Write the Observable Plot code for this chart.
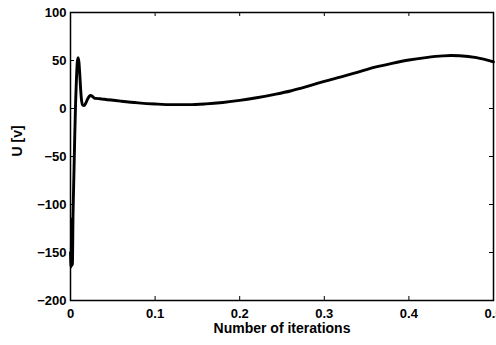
<!DOCTYPE html>
<html>
<head>
<meta charset="utf-8">
<script src="https://cdn.jsdelivr.net/npm/d3@7"></script>
<script src="https://cdn.jsdelivr.net/npm/@observablehq/plot@0.6"></script>
<style>
  body { margin: 0; background: #fff; overflow: hidden; }
</style>
</head>
<body>
<div id="chart"></div>
<script>
// Data
const iterations = [0, 0.0007, 0.0015, 0.0022, 0.003, 0.004, 0.005, 0.006, 0.007, 0.008, 0.009, 0.010, 0.011, 0.012, 0.013, 0.0145, 0.016, 0.018, 0.020, 0.022, 0.024, 0.026, 0.028, 0.030, 0.035, 0.04, 0.06, 0.08, 0.10, 0.12, 0.14, 0.16, 0.18, 0.20, 0.22, 0.24, 0.26, 0.28, 0.30, 0.32, 0.34, 0.36, 0.38, 0.40, 0.42, 0.44, 0.45, 0.46, 0.48, 0.50];
const voltage    = [-150, -165, -115, -163, -110, -70, -30, 5, 30, 48, 53, 48, 35, 20, 9, 3.5, 3, 5.5, 9.5, 12.5, 13.5, 12.5, 11, 10.5, 10.2, 9.6, 7.6, 5.9, 4.7, 4.0, 4.0, 4.8, 6.3, 8.4, 11.2, 14.5, 18.2, 23, 28.3, 33, 38, 43, 47, 50.5, 53, 54.8, 55.2, 55, 53, 48.5];
const xTicks = [0, 0.1, 0.2, 0.3, 0.4, 0.5];
const yTicks = [-200, -150, -100, -50, 0, 50, 100];
const xLabel = "Number of iterations";
const yLabel = "U [v]";

const data = iterations.map((t, i) => ({t, u: voltage[i]}));

const W = 496, H = 345, mL = 70, mR = 3, mT = 12, mB = 45;
const fh = H - mT - mB, fw = W - mL - mR;
const fmtY = d => d < 0 ? "\u2212" + Math.abs(d) : String(d);

const chart = Plot.plot({
  width: W, height: H,
  marginLeft: mL, marginRight: mR, marginTop: mT, marginBottom: mB,
  style: {fontFamily: "'Liberation Sans', Arial, Helvetica, sans-serif", fontWeight: "bold", fontSize: "13px", background: "white", color: "black", overflow: "visible"},
  x: {domain: [0, 0.5]},
  y: {domain: [-200, 100]},
  marks: [
    Plot.axisX(xTicks, {anchor: "bottom", tickSize: 0, tickPadding: 8, tickFormat: d => String(d), label: null, fontWeight: "bold", fontSize: 13}),
    Plot.axisY(yTicks, {anchor: "left", tickSize: 0, tickPadding: 4, tickFormat: fmtY, label: null, fontWeight: "bold", fontSize: 13}),
    Plot.tickX(xTicks, {x: d => d, insetTop: fh - 4, stroke: "black", strokeWidth: 1}),
    Plot.tickX(xTicks, {x: d => d, insetBottom: fh - 4, stroke: "black", strokeWidth: 1}),
    Plot.tickY(yTicks, {y: d => d, insetRight: fw - 4, stroke: "black", strokeWidth: 1}),
    Plot.tickY(yTicks, {y: d => d, insetLeft: fw - 4, stroke: "black", strokeWidth: 1}),
    Plot.frame({stroke: "black", strokeWidth: 1.5}),
    Plot.line(data, {x: "t", y: "u", stroke: "black", strokeWidth: 2.9, curve: "monotone-x"}),
    Plot.text([xLabel], {text: d => d, frameAnchor: "bottom", lineAnchor: "middle", dy: 28, fontSize: 14, fontWeight: "bold", fill: "black"}),
    Plot.text([yLabel], {text: d => d, frameAnchor: "left", lineAnchor: "middle", dx: -53, rotate: -90, fontSize: 14, fontWeight: "bold", fill: "black"})
  ]
});
document.getElementById("chart").appendChild(chart);
</script>
</body>
</html>
